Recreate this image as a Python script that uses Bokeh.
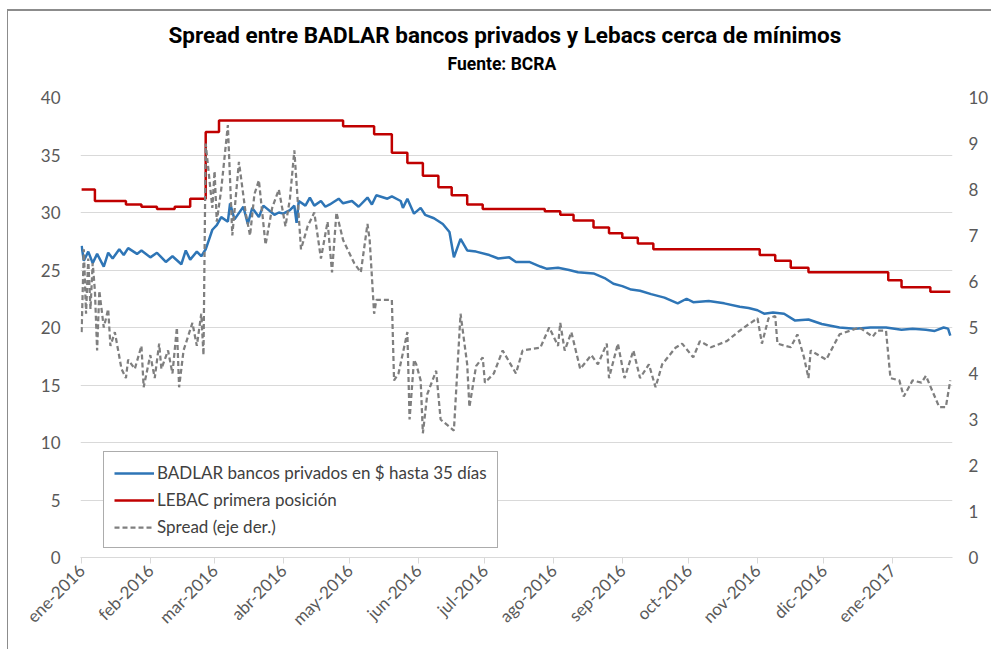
import math
import pandas as pd
from bokeh.plotting import figure
from bokeh.models import Range1d, LinearAxis, FixedTicker, Legend, LegendItem, Title
from bokeh.embed import file_html
from bokeh.resources import INLINE

title_text = "Spread entre BADLAR bancos privados y Lebacs cerca de mínimos"
subtitle_text = "Fuente: BCRA"
name_badlar = "BADLAR bancos privados en $ hasta 35 días"
name_lebac = "LEBAC primera posición"
name_spread = "Spread (eje der.)"

month_starts = ["2016-01-01", "2016-02-01", "2016-03-01", "2016-04-01", "2016-05-01",
                "2016-06-01", "2016-07-01", "2016-08-01", "2016-09-01", "2016-10-01",
                "2016-11-01", "2016-12-01", "2017-01-01"]
month_labels = ["ene-2016", "feb-2016", "mar-2016", "abr-2016", "may-2016", "jun-2016",
                "jul-2016", "ago-2016", "sep-2016", "oct-2016", "nov-2016", "dic-2016",
                "ene-2017"]
x_end_date = "2017-01-28"

left_ticks = [0, 5, 10, 15, 20, 25, 30, 35, 40]
right_ticks = [0, 1, 2, 3, 4, 5, 6, 7, 8, 9, 10]

lebac_dates = ["2016-01-01", "2016-01-07", "2016-01-21", "2016-01-28", "2016-02-04",
               "2016-02-12", "2016-02-19", "2016-02-26", "2016-03-03", "2016-04-28",
               "2016-05-12", "2016-05-20", "2016-05-27", "2016-06-03", "2016-06-10",
               "2016-06-16", "2016-06-23", "2016-06-30", "2016-07-28", "2016-08-04",
               "2016-08-10", "2016-08-19", "2016-08-26", "2016-09-01", "2016-09-08",
               "2016-09-15", "2016-11-02", "2016-11-09", "2016-11-16", "2016-11-24",
               "2016-12-30", "2017-01-05", "2017-01-18", "2017-01-27"]
lebac_values = [32.0, 31.0, 30.7, 30.5, 30.3,
                30.5, 31.2, 37.0, 38.0, 37.5,
                36.8, 35.2, 34.3, 33.2, 32.2,
                31.5, 30.7, 30.3, 30.1, 29.8,
                29.3, 28.7, 28.2, 27.8, 27.3,
                26.8, 26.3, 25.8, 25.2, 24.8,
                24.1, 23.5, 23.1, 23.1]

badlar_dates = ["2016-01-01", "2016-01-02", "2016-01-04", "2016-01-06", "2016-01-08",
                "2016-01-11", "2016-01-13", "2016-01-15", "2016-01-18", "2016-01-20",
                "2016-01-22", "2016-01-26", "2016-01-28", "2016-02-01", "2016-02-04",
                "2016-02-08", "2016-02-11", "2016-02-15", "2016-02-17", "2016-02-19",
                "2016-02-22", "2016-02-24", "2016-02-26", "2016-02-29", "2016-03-02",
                "2016-03-04", "2016-03-07", "2016-03-08", "2016-03-10", "2016-03-14",
                "2016-03-16", "2016-03-18", "2016-03-21", "2016-03-23", "2016-03-28",
                "2016-03-30", "2016-04-01", "2016-04-04", "2016-04-06", "2016-04-07",
                "2016-04-08", "2016-04-11", "2016-04-13", "2016-04-15", "2016-04-18",
                "2016-04-20", "2016-04-22", "2016-04-26", "2016-04-28", "2016-05-02",
                "2016-05-05", "2016-05-09", "2016-05-11", "2016-05-13", "2016-05-18",
                "2016-05-20", "2016-05-24", "2016-05-25", "2016-05-27", "2016-05-30",
                "2016-06-02", "2016-06-04", "2016-06-08", "2016-06-12", "2016-06-15",
                "2016-06-17", "2016-06-20", "2016-06-23", "2016-06-27", "2016-07-03",
                "2016-07-07", "2016-07-12", "2016-07-15", "2016-07-21", "2016-07-26",
                "2016-07-29", "2016-08-03", "2016-08-08", "2016-08-12", "2016-08-19",
                "2016-08-24", "2016-08-28", "2016-09-01", "2016-09-05", "2016-09-09",
                "2016-09-14", "2016-09-20", "2016-09-26", "2016-09-30", "2016-10-03",
                "2016-10-10", "2016-10-17", "2016-10-24", "2016-10-28", "2016-11-01",
                "2016-11-04", "2016-11-08", "2016-11-13", "2016-11-18", "2016-11-24",
                "2016-11-30", "2016-12-08", "2016-12-15", "2016-12-22", "2016-12-29",
                "2017-01-05", "2017-01-10", "2017-01-16", "2017-01-20", "2017-01-24",
                "2017-01-26", "2017-01-27"]
badlar_values = [27.1, 25.8, 26.6, 25.6, 26.4,
                 25.3, 26.5, 26.0, 26.8, 26.3,
                 26.9, 26.4, 26.7, 26.1, 26.5,
                 25.7, 26.2, 25.5, 26.7, 25.9,
                 26.6, 26.2, 26.8, 28.5, 28.9,
                 29.6, 29.2, 30.8, 29.4, 30.5,
                 29.0, 30.4, 29.6, 30.6, 29.8,
                 30.0, 29.9, 30.2, 30.6, 29.1,
                 31.0, 30.6, 31.3, 30.6, 31.0,
                 30.5, 30.7, 31.2, 30.8, 31.0,
                 30.5, 31.3, 30.7, 31.5, 31.2,
                 31.4, 31.0, 30.4, 31.2, 29.9,
                 30.4, 29.8, 29.5, 29.0, 28.3,
                 26.1, 27.7, 26.7, 26.6, 26.3,
                 26.0, 26.1, 25.7, 25.7, 25.3,
                 25.1, 25.2, 25.0, 24.8, 24.7,
                 24.3, 23.8, 23.6, 23.3, 23.2,
                 22.9, 22.6, 22.1, 22.5, 22.2,
                 22.3, 22.1, 21.8, 21.7, 21.5,
                 21.2, 21.3, 21.2, 20.6, 20.7,
                 20.3, 20.0, 19.9, 20.0, 20.0,
                 19.8, 19.9, 19.8, 19.7, 20.0,
                 19.9, 19.3]

spread_dates = ["2016-01-01", "2016-01-02", "2016-01-03", "2016-01-04", "2016-01-05",
                "2016-01-06", "2016-01-07", "2016-01-08", "2016-01-09", "2016-01-11",
                "2016-01-13", "2016-01-14", "2016-01-16", "2016-01-19", "2016-01-21",
                "2016-01-22", "2016-01-25", "2016-01-28", "2016-01-29", "2016-02-01",
                "2016-02-03", "2016-02-05", "2016-02-06", "2016-02-09", "2016-02-11",
                "2016-02-13", "2016-02-14", "2016-02-16", "2016-02-18", "2016-02-20",
                "2016-02-22", "2016-02-24", "2016-02-25", "2016-02-26", "2016-02-29",
                "2016-03-01", "2016-03-02", "2016-03-04", "2016-03-07", "2016-03-09",
                "2016-03-12", "2016-03-15", "2016-03-17", "2016-03-19", "2016-03-21",
                "2016-03-24", "2016-03-27", "2016-03-30", "2016-04-02", "2016-04-04",
                "2016-04-06", "2016-04-09", "2016-04-12", "2016-04-15", "2016-04-18",
                "2016-04-21", "2016-04-23", "2016-04-25", "2016-04-28", "2016-05-03",
                "2016-05-06", "2016-05-09", "2016-05-10", "2016-05-12", "2016-05-13",
                "2016-05-20", "2016-05-21", "2016-05-23", "2016-05-27", "2016-05-28",
                "2016-05-30", "2016-05-31", "2016-06-02", "2016-06-03", "2016-06-05",
                "2016-06-09", "2016-06-11", "2016-06-17", "2016-06-20", "2016-06-23",
                "2016-06-24", "2016-06-27", "2016-06-30", "2016-07-01", "2016-07-05",
                "2016-07-09", "2016-07-15", "2016-07-18", "2016-07-26", "2016-07-30",
                "2016-08-03", "2016-08-04", "2016-08-06", "2016-08-09", "2016-08-13",
                "2016-08-18", "2016-08-21", "2016-08-25", "2016-08-26", "2016-08-30",
                "2016-09-02", "2016-09-06", "2016-09-09", "2016-09-13", "2016-09-16",
                "2016-09-19", "2016-09-25", "2016-09-28", "2016-10-03", "2016-10-06",
                "2016-10-11", "2016-10-18", "2016-10-24", "2016-10-28", "2016-11-01",
                "2016-11-03", "2016-11-06", "2016-11-09", "2016-11-10", "2016-11-16",
                "2016-11-19", "2016-11-22", "2016-11-24", "2016-11-25", "2016-12-02",
                "2016-12-08", "2016-12-17", "2016-12-23", "2016-12-25", "2016-12-29",
                "2016-12-31", "2017-01-04", "2017-01-06", "2017-01-10", "2017-01-14",
                "2017-01-16", "2017-01-22", "2017-01-25", "2017-01-27"]
spread_values = [4.9, 6.7, 5.3, 6.5, 5.4,
                 6.4, 5.8, 4.5, 5.8, 5.0,
                 5.4, 4.6, 4.9, 4.1, 3.9,
                 4.3, 4.1, 4.6, 3.7, 4.4,
                 3.9, 4.65, 4.1, 4.5, 4.0,
                 5.0, 3.7, 4.5, 4.8, 5.1,
                 4.6, 5.3, 4.4, 9.0, 7.6,
                 8.4, 7.3, 8.0, 9.4, 7.0,
                 8.6, 7.5, 7.0, 7.9, 8.2,
                 6.8, 7.6, 8.0, 7.2, 7.8,
                 8.85, 6.7, 7.2, 7.5, 6.5,
                 7.3, 6.2, 7.5, 6.9, 6.4,
                 6.2, 7.25, 6.9, 5.3, 5.6,
                 5.6, 3.85, 4.0, 4.9, 3.0,
                 4.3, 4.2, 3.85, 2.7, 3.55,
                 4.06, 3.0, 2.76, 5.3, 4.2,
                 3.27, 4.16, 4.35, 3.8, 4.0,
                 4.5, 4.0, 4.5, 4.56, 5.0,
                 4.6, 5.1, 4.5, 4.9, 4.1,
                 4.4, 4.2, 4.65, 3.9, 4.65,
                 3.9, 4.5, 3.9, 4.2, 3.7,
                 4.2, 4.56, 4.65, 4.35, 4.7,
                 4.57, 4.7, 4.93, 5.07, 5.2,
                 4.65, 5.2, 5.25, 4.65, 4.57,
                 4.85, 4.35, 3.9, 4.5, 4.3,
                 4.85, 5.0, 4.8, 4.93, 4.93,
                 3.9, 3.85, 3.5, 3.85, 3.8,
                 3.95, 3.27, 3.27, 3.85]

origin = pd.Timestamp(month_starts[0])


def to_days(dates):
    return [(pd.Timestamp(d) - origin).days for d in dates]


TICK_FONT = "Lato"
TITLE_FONT = "Roboto"
TEXT_COL = "#595959"

p = figure(width=984, height=640, output_backend="svg", toolbar_location=None,
           x_range=Range1d(-0.5, to_days([x_end_date])[0]),
           y_range=Range1d(left_ticks[0], left_ticks[-1]),
           min_border_left=72, min_border_right=40, min_border_top=86, min_border_bottom=94,
           background_fill_color="white", border_fill_color="white")
p.extra_y_ranges = {"right": Range1d(right_ticks[0], right_ticks[-1])}
p.outline_line_color = None
p.styles = {"margin-left": "7px", "margin-top": "9px",
            "border-top": "2px solid #8c8c8c", "border-left": "1px solid #8c8c8c"}

# grid
p.xgrid.grid_line_color = None
p.ygrid.grid_line_color = "#d9d9d9"
p.ygrid.grid_line_width = 1

# left axis
ya = p.yaxis[0]
ya.ticker = FixedTicker(ticks=left_ticks)
ya.axis_line_color = None
ya.major_tick_line_color = None
ya.minor_tick_line_color = None
ya.major_tick_out = 0
ya.major_tick_in = 0
ya.major_label_text_font = TICK_FONT
ya.major_label_text_font_size = "17px"
ya.major_label_text_color = TEXT_COL
ya.major_label_standoff = 20

# right axis
ra = LinearAxis(y_range_name="right", ticker=FixedTicker(ticks=right_ticks))
ra.axis_line_color = None
ra.major_tick_line_color = None
ra.minor_tick_line_color = None
ra.major_tick_out = 0
ra.major_tick_in = 0
ra.axis_label_standoff = 0
ra.major_label_text_font = TICK_FONT
ra.major_label_text_font_size = "17px"
ra.major_label_text_color = TEXT_COL
ra.major_label_standoff = 16
p.add_layout(ra, "right")

# x axis
xa = p.xaxis[0]
month_days = to_days(month_starts)
xa.ticker = FixedTicker(ticks=month_days)
xa.major_label_overrides = {d: lab for d, lab in zip(month_days, month_labels)}
xa.major_label_orientation = math.pi / 4
xa.axis_line_color = "#d9d9d9"
xa.major_tick_line_color = "#d9d9d9"
xa.major_tick_out = 6
xa.major_tick_in = 0
xa.minor_tick_line_color = None
xa.major_label_text_font = TICK_FONT
xa.major_label_text_font_size = "17px"
xa.major_label_text_color = TEXT_COL
xa.major_label_standoff = 4

# series
r_badlar = p.line(to_days(badlar_dates), badlar_values, line_color="#2e75b6", line_width=2.5)
r_lebac = p.step(to_days(lebac_dates), lebac_values, mode="after", line_color="#c00000", line_width=2.5)
r_spread = p.line(to_days(spread_dates), spread_values, y_range_name="right",
                  line_color="#7f7f7f", line_width=2.25, line_dash="5 3")

legend = Legend(items=[LegendItem(label=name_badlar, renderers=[r_badlar]),
                       LegendItem(label=name_lebac, renderers=[r_lebac]),
                       LegendItem(label=name_spread, renderers=[r_spread])],
                location=(23, 9))
legend.border_line_color = "#595959"
legend.border_line_width = 1
legend.background_fill_alpha = 1
legend.label_text_font = TICK_FONT
legend.label_text_font_size = "17px"
legend.label_text_color = "#404040"
legend.glyph_width = 40
legend.glyph_height = 20
legend.label_height = 20
legend.label_standoff = 3
legend.spacing = 6
legend.padding = 10
legend.margin = 0
p.add_layout(legend)

# titles (added nearest-first): a blank spacer, the source line, then the main title
spacer = Title(text=" ", align="left", text_font=TITLE_FONT, text_font_size="8px", standoff=8)
p.add_layout(spacer, "above")
sub = Title(text=subtitle_text, align="left", offset=367, text_font=TITLE_FONT,
            text_font_size="17.5px", text_font_style="bold", text_color="#000000", standoff=9)
p.add_layout(sub, "above")
main = Title(text=title_text, align="left", offset=88, text_font=TITLE_FONT,
             text_font_size="22.5px", text_font_style="bold", text_color="#000000", standoff=0)
p.add_layout(main, "above")

open("out.html", "w").write(file_html(p, INLINE))
